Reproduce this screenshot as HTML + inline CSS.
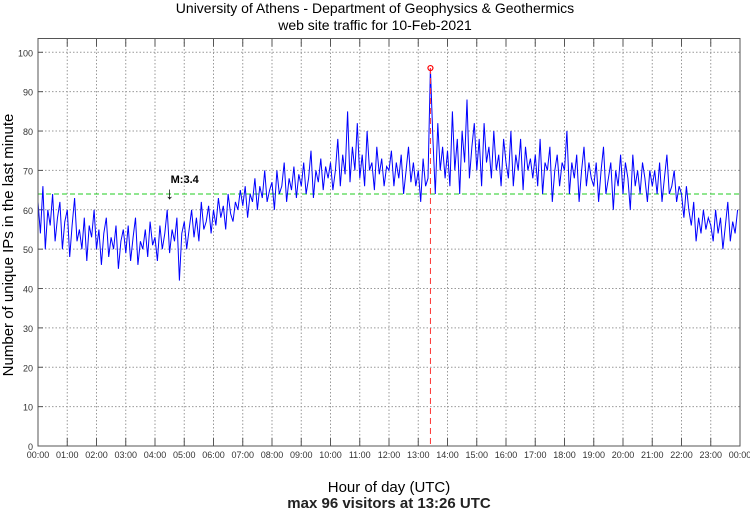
<!DOCTYPE html>
<html><head><meta charset="utf-8"><style>
body{margin:0;background:#fff;font-family:"Liberation Sans",sans-serif}
svg{display:block}
</style></head><body>
<svg id="chart" width="750" height="511" font-family="Liberation Sans, sans-serif">
<text x="375" y="13" text-anchor="middle" font-size="14">University of Athens - Department of Geophysics &amp; Geothermics</text>
<text x="375" y="30" text-anchor="middle" font-size="14">web site traffic for 10-Feb-2021</text>
<g id="grid"></g>
<g id="ticks"></g>
<g id="series"></g>
<rect x="38" y="38.5" width="702" height="407.5" fill="none" stroke="#555" stroke-width="1"/>
<text transform="translate(13,245) rotate(-90)" text-anchor="middle" font-size="15">Number of unique IPs in the last minute</text>
<text x="389" y="492" text-anchor="middle" font-size="15">Hour of day (UTC)</text>
<text x="389" y="508" text-anchor="middle" font-size="15" font-weight="bold" fill="#222">max 96 visitors at 13:26 UTC</text>
</svg>
<script>
const yTicks=[0,10,20,30,40,50,60,70,80,90,100];
const xHours=["00:00","01:00","02:00","03:00","04:00","05:00","06:00","07:00","08:00","09:00","10:00","11:00","12:00","13:00","14:00","15:00","16:00","17:00","18:00","19:00","20:00","21:00","22:00","23:00","00:00"];
const stepMinutes=5;
const visitors=[
62,54,66,50,60,56,64,52,58,62,50,57,
60,48,56,63,52,55,50,58,47,56,53,60,
50,55,46,54,58,48,53,50,56,45,52,55,
49,56,47,53,58,46,52,50,55,48,57,51,
53,47,56,50,54,60,49,55,52,58,42,54,
57,50,55,60,53,58,52,62,55,57,61,54,
60,56,63,58,61,55,64,59,57,62,60,65,
61,66,58,64,62,68,60,66,63,70,62,65,
67,60,70,64,66,72,62,68,65,71,63,69,
66,72,64,68,75,63,70,67,73,65,71,68,
72,65,70,78,66,74,69,85,67,76,70,82,
68,74,66,80,70,72,65,76,69,73,66,71,
70,75,66,72,68,74,64,70,76,67,72,66,
70,62,73,66,68,96,78,64,82,70,76,68,
75,66,85,70,78,64,80,72,88,68,76,82,
70,78,66,82,72,76,68,80,70,74,66,78,
72,68,80,66,74,70,78,65,76,70,73,68,
74,66,78,64,72,70,76,62,70,74,66,72,
70,80,64,72,68,74,62,70,76,66,72,68,
66,72,62,70,76,64,68,72,60,70,66,74,
64,72,68,60,74,66,70,64,72,68,62,70,
66,70,64,72,62,68,74,64,66,70,62,66,
64,58,66,60,56,62,52,58,54,60,55,58,
56,52,60,54,58,50,56,62,52,57,54,60];
const meanLevel=[64];
const meanLabel=["M:3.4"];
const meanMarkerMinute=[270];

const NS="http://www.w3.org/2000/svg";
const X0=38,X1=740,Y0=446,Y100=52.3;
const xs=m=>X0+(X1-X0)*m/1440;
const ys=v=>Y0-(Y0-Y100)*v/100;
function mk(t,a,p){const e=document.createElementNS(NS,t);for(const k in a)e.setAttribute(k,a[k]);p.appendChild(e);return e;}
const grid=document.getElementById('grid'),ticks=document.getElementById('ticks'),ser=document.getElementById('series');
yTicks.forEach(v=>{
  const y=ys(v);
  if(v>0){const l=mk('line',{x1:X0,x2:X1,y1:y,y2:y,stroke:'#999','stroke-dasharray':'1.5,2'},grid);
  
  }
  const t=mk('line',{x1:X0,x2:X0+5,y1:y,y2:y,stroke:'#555'},ticks);
  
  
  const tx=mk('text',{x:X0-5,y:y+4,'text-anchor':'end','font-size':9,fill:'#333'},ticks);
  tx.textContent=v;
  
  
});
xHours.forEach((h,i)=>{
  const x=xs(i*60);
  if(i>0&&i<24){const l=mk('line',{x1:x,x2:x,y1:38.5,y2:Y0,stroke:'#999','stroke-dasharray':'1.5,2'},grid);
  
  }
  const t1=mk('line',{x1:x,x2:x,y1:Y0,y2:Y0-8,stroke:'#555'},ticks);
  
  
  const t2=mk('line',{x1:x,x2:x,y1:38.5,y2:46.5,stroke:'#555'},ticks);
  
  
  const tx=mk('text',{x:x,y:458,'text-anchor':'middle','font-size':9,fill:'#333'},ticks);
  tx.textContent=h;
  
  
});
const ml=mk('line',{x1:X0,x2:X1,y1:ys(meanLevel[0]),y2:ys(meanLevel[0]),stroke:'#2c2','stroke-dasharray':'5,3'},ser);


const pts=visitors.map((v,i)=>xs(i*stepMinutes).toFixed(1)+','+ys(v).toFixed(1)).join(' ');
const pl=mk('polyline',{points:pts,fill:'none',stroke:'#00f','stroke-width':1},ser);


let mi=0;visitors.forEach((v,i)=>{if(v>visitors[mi])mi=i;});
const mx=xs(mi*stepMinutes),my=ys(visitors[mi]);
const vl=mk('line',{x1:mx,x2:mx,y1:my,y2:Y0,stroke:'#f33','stroke-dasharray':'6,4'},ser);


const mc=mk('circle',{cx:mx,cy:my,r:2.5,fill:'none',stroke:'#f00','stroke-width':1.2},ser);


const ax=xs(meanMarkerMinute[0]);
const ma=mk('text',{x:ax,y:ys(meanLevel[0])+5,'text-anchor':'middle','font-size':17},ser);
ma.textContent='↓';


const mt=mk('text',{x:ax+1,y:ys(meanLevel[0])-11,'font-size':11,'font-weight':'bold'},ser);
mt.textContent=meanLabel[0];


</script>
</body></html>
